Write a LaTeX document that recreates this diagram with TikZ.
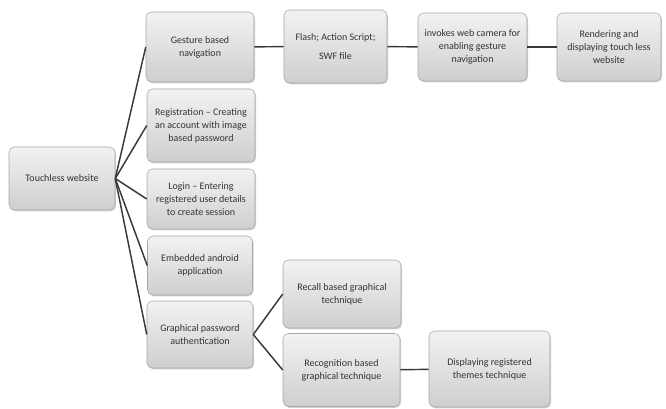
\documentclass[tikz,border=0pt]{standalone}
\usepackage{fontspec}
\setmainfont{Carlito}
\usetikzlibrary{shadows}

\begin{document}
\begin{tikzpicture}[x=0.75pt,y=-0.75pt,
  box/.style={draw=gray!70, rounded corners=4pt, top color=gray!10, bottom color=gray!38,
    drop shadow={shadow xshift=0.8pt, shadow yshift=-1pt, opacity=0.35},
    align=center, inner sep=2pt, font=\fontsize{7.5}{9.75}\selectfont, text=black!80},
  link/.style={draw=gray!45!black, line width=1.1pt}]
\useasboundingbox (0,0) rectangle (666,408);
% root and first level
\node[box, minimum width=79.5pt, minimum height=47.25pt] (web) at (62,178.5) {Touchless website};
\node[box, minimum width=81pt, minimum height=52.5pt] (gest) at (200,47) {Gesture based\\navigation};
\node[box, minimum width=81pt, minimum height=54.75pt] (reg) at (201,125.5) {Registration -- Creating\\an account with image\\based password};
\node[box, minimum width=81pt, minimum height=45pt] (login) at (201,199) {Login -- Entering\\registered user details\\to create session};
\node[box, minimum width=78.75pt, minimum height=44.25pt] (emb) at (200,265.5) {Embedded android\\application};
\node[box, minimum width=79.5pt, minimum height=50.25pt] (gpa) at (200,334.5) {Graphical password\\authentication};
% gesture chain
\node[box, minimum width=77.25pt, minimum height=54.75pt] (flash) at (335.5,46.5) {Flash; Action Script;\\[4pt]SWF file};
\node[box, minimum width=81.75pt, minimum height=51pt] (cam) at (472.5,47) {invokes web camera for\\enabling gesture\\navigation};
\node[box, minimum width=78pt, minimum height=51pt] (rend) at (609,47) {Rendering and\\displaying touch less\\website};
% password techniques
\node[box, minimum width=88.5pt, minimum height=51pt] (recall) at (342,294) {Recall based graphical\\technique};
\node[box, minimum width=87.75pt, minimum height=54.75pt] (recog) at (341.5,370) {Recognition based\\graphical technique};
\node[box, minimum width=90.75pt, minimum height=57pt] (disp) at (489.5,369) {Displaying registered\\themes technique};

\foreach \n in {gest,reg,login,emb,gpa}
  \draw[link] (web.east) -- (\n.west);
\draw[link] (gest) -- (flash);
\draw[link] (flash) -- (cam);
\draw[link] (cam) -- (rend);
\draw[link] (gpa.east) -- (recall.west);
\draw[link] (gpa.east) -- (recog.west);
\draw[link] (recog) -- (disp);
\end{tikzpicture}
\end{document}
